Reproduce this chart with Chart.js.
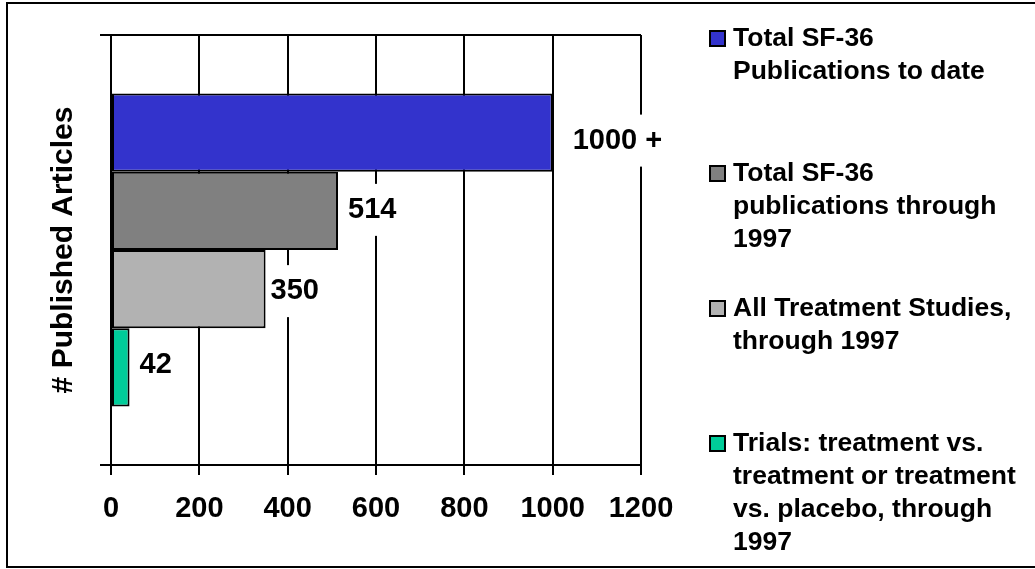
<!DOCTYPE html>
<html>
<head>
<meta charset="utf-8">
<script src="https://cdn.jsdelivr.net/npm/chart.js@4.4.1/dist/chart.umd.min.js"></script>
<style>
  html, body { margin: 0; padding: 0; background: #fff; }
  #wrap { position: relative; width: 1035px; height: 569px; overflow: hidden;
          font-family: "Liberation Sans", Arial, sans-serif; }
  #myChart { position: absolute; left: 0; top: 0; }
  #frame { position: absolute; left: 6px; top: 2px; width: 1100px; height: 566px;
           border: 2px solid #000; box-sizing: border-box; pointer-events: none; }
  .item { position: absolute; left: 709px; font-weight: bold; font-size: 26.5px;
          line-height: 33px; color: #000; white-space: pre-line; }
  .item .box { position: absolute; left: 0; top: 9px; width: 17px; height: 17px;
               border: 2px solid #000; box-sizing: border-box; }
  .item .txt { margin-left: 24px; }
</style>
</head>
<body>
<div id="wrap">
  <canvas id="myChart" width="1035" height="569"></canvas>
  <div id="legend"></div>
  <div id="frame"></div>
</div>
<script>
// data
var seriesLabels = [
  "Total SF-36\nPublications to date",
  "Total SF-36\npublications through\n1997",
  "All Treatment Studies,\nthrough 1997",
  "Trials: treatment vs.\ntreatment or treatment\nvs. placebo, through\n1997"
];
var seriesValues = [1000, 514, 350, 42];
var valueLabels = ["1000 +", "514", "350", "42"];
var barColors = ["#3333CC", "#808080", "#B2B2B2", "#00CC99"];
var xTicks = [0, 200, 400, 600, 800, 1000, 1200];
var yTitle = "# Published Articles";

Chart.defaults.font.family = '"Liberation Sans", Arial, sans-serif';
Chart.defaults.color = "#000";

// little nudges so the value labels sit where the original put them
var labelOffsets = [20, 10, 5, 10];
var labelShiftY = [8, -1, 2, -2];

const barLabels = {
  id: "barLabels",
  afterDatasetsDraw(chart) {
    const ctx = chart.ctx;
    ctx.save();
    ctx.font = 'bold 29px "Liberation Sans", Arial, sans-serif';
    ctx.textBaseline = "middle";
    ctx.textAlign = "left";
    chart.data.datasets.forEach((ds, i) => {
      const bar = chart.getDatasetMeta(i).data[0];
      const x = bar.x + labelOffsets[i];
      const y = bar.y + labelShiftY[i];
      const w = ctx.measureText(valueLabels[i]).width;
      const left = Math.max(x - 5, bar.x + 2);
      ctx.fillStyle = "#fff";
      ctx.fillRect(left, y - 26, x + w + 5 - left, 52);
      ctx.fillStyle = "#000";
      ctx.fillText(valueLabels[i], x, y);
    });
    ctx.restore();
  }
};

const datasets = seriesValues.map((v, i) => ({
  label: seriesLabels[i],
  data: [v],
  backgroundColor: barColors[i],
  borderColor: "#000",
  borderWidth: 2,
  borderSkipped: false,
  categoryPercentage: 0.728,
  barPercentage: 1.0
}));

const myChart = new Chart("myChart", {
  type: "bar",
  data: { labels: [""], datasets: datasets },
  plugins: [barLabels],
  options: {
    indexAxis: "y",
    responsive: false,
    animation: false,
    devicePixelRatio: 1,
    layout: { padding: { top: 35, right: 394, bottom: 0, left: 0 } },
    plugins: { legend: { display: false }, tooltip: { enabled: false } },
    scales: {
      x: {
        min: xTicks[0],
        max: xTicks[xTicks.length - 1],
        afterBuildTicks: s => { s.ticks = xTicks.map(v => ({ value: v })); },
        afterFit: s => { s.height = 104; },
        grid: { color: "#000", lineWidth: 2, tickLength: 10, tickColor: "#000" },
        border: { display: true, color: "#000", width: 2 },
        ticks: {
          padding: 17,
          color: "#000",
          font: { size: 29, weight: "bold" },
          maxRotation: 0,
          callback: v => String(v)
        }
      },
      y: {
        afterFit: s => { s.width = 111; },
        grid: { color: "#000", lineWidth: 2, tickLength: 11, offset: true },
        border: { display: true, color: "#000", width: 2 },
        ticks: { display: true },
        title: {
          display: true,
          text: yTitle,
          color: "#000",
          font: { size: 30, weight: "bold" },
          padding: { top: 46, bottom: 0 }
        }
      }
    }
  }
});

// legend on the right, built from the same arrays
var legendTops = [21, 156, 291, 426];
var legend = document.getElementById("legend");
seriesLabels.forEach((lab, i) => {
  var item = document.createElement("div");
  item.className = "item";
  item.style.top = legendTops[i] + "px";
  var sw = document.createElement("span");
  sw.className = "box";
  sw.style.background = barColors[i];
  var txt = document.createElement("div");
  txt.className = "txt";
  txt.textContent = lab;
  item.appendChild(sw);
  item.appendChild(txt);
  legend.appendChild(item);
});
</script>
</body>
</html>
